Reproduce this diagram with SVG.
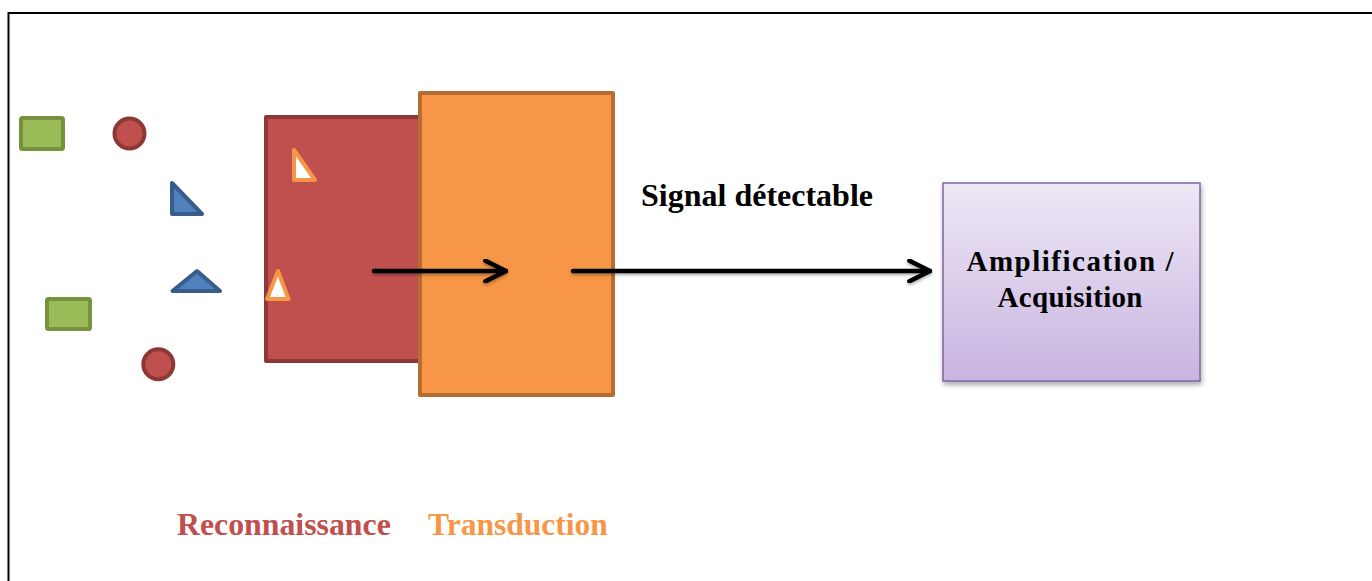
<svg xmlns="http://www.w3.org/2000/svg" width="1372" height="581" viewBox="0 0 1372 581">
  <defs>
    <linearGradient id="purpleGrad" x1="0" y1="0" x2="0" y2="1">
      <stop offset="0" stop-color="#EEE8F6"/>
      <stop offset="1" stop-color="#C8B4E0"/>
    </linearGradient>
    <filter id="shadow" x="-10%" y="-10%" width="130%" height="140%">
      <feDropShadow dx="1" dy="3" stdDeviation="2.5" flood-color="#000" flood-opacity="0.35"/>
    </filter>
    <filter id="arrowShadow" filterUnits="userSpaceOnUse" x="350" y="240" width="620" height="70">
      <feDropShadow dx="0" dy="2" stdDeviation="1.5" flood-color="#000" flood-opacity="0.3"/>
    </filter>
    <marker id="chevron" viewBox="0 0 12 12" refX="11" refY="6" markerWidth="5.5" markerHeight="5.5" markerUnits="strokeWidth" orient="auto">
      <path d="M1,1 L11,6 L1,11" fill="none" stroke="#000" stroke-width="2.2" stroke-linecap="round" stroke-linejoin="round"/>
    </marker>
    <style>
      .txt { font-family: "Liberation Serif", "Times New Roman", serif; font-weight: bold; }
      .green { fill: #9BBB59; stroke: #76923C; stroke-width: 4; }
      .redc { fill: #C0504D; stroke: #8C3836; stroke-width: 4; }
      .blue { fill: #4F81BD; stroke: #385D8A; stroke-width: 4; stroke-linejoin: round; }
      .otri { fill: #FFFFFF; stroke: #F79646; stroke-width: 4; stroke-linejoin: round; }
      .conn { stroke: #000; stroke-width: 4.5; fill: none; stroke-linecap: round; }
    </style>
  </defs>

  <rect width="1372" height="581" fill="#FFFFFF"/>

  <!-- frame -->
  <g id="frame">
    <path d="M8.5,581 L8.5,13 L1372,13" fill="none" stroke="#000" stroke-width="2"/>
  </g>

  <!-- analyte shapes -->
  <g id="analytes">
    <rect class="green" x="21" y="118" width="42" height="31" rx="1.5"/>
    <circle class="redc" cx="129.5" cy="133.5" r="15"/>
    <path class="blue" d="M172,183 L172,214 L202,214 Z"/>
    <path class="blue" d="M197,271 L172.5,291 L220,291 Z"/>
    <rect class="green" x="47" y="299" width="43" height="30" rx="1.5"/>
    <circle class="redc" cx="158.3" cy="364.2" r="15"/>
  </g>

  <!-- recognition layer -->
  <g id="reconnaissance-layer">
    <rect x="266" y="117" width="170" height="244" fill="#C0504D" stroke="#8C3836" stroke-width="4" stroke-linejoin="round"/>
    <path class="otri" d="M294,150 L294,180 L315,180 Z"/>
    <path class="otri" d="M278,271 L267,299 L288.5,299 Z"/>
  </g>

  <!-- transduction layer -->
  <g id="transduction-layer">
    <rect x="420" y="93" width="193" height="302" fill="#F79646" stroke="#B66D31" stroke-width="4" stroke-linejoin="round"/>
  </g>

  <!-- amplification node -->
  <g id="amplification">
    <rect x="943" y="183" width="257" height="198" fill="url(#purpleGrad)" stroke="#8064A2" stroke-width="1.5" filter="url(#shadow)"/>
    <text class="txt" x="1070" y="271" font-size="29" text-anchor="middle" textLength="207" lengthAdjust="spacing" fill="#000">Amplification /</text>
    <text class="txt" x="1070" y="307" font-size="29" text-anchor="middle" textLength="145" lengthAdjust="spacing" fill="#000">Acquisition</text>
  </g>

  <!-- connectors -->
  <g id="connectors" filter="url(#arrowShadow)">
    <line class="conn" x1="374" y1="271" x2="506" y2="271" marker-end="url(#chevron)"/>
    <line class="conn" x1="573" y1="271" x2="930" y2="271" marker-end="url(#chevron)"/>
  </g>

  <!-- labels -->
  <g id="labels">
    <text class="txt" x="641" y="206" font-size="32" fill="#000">Signal détectable</text>
    <text class="txt" x="177" y="535" font-size="31.8" fill="#C0504D">Reconnaissance</text>
    <text class="txt" x="428" y="535" font-size="31.5" fill="#F79646">Transduction</text>
  </g>
</svg>
